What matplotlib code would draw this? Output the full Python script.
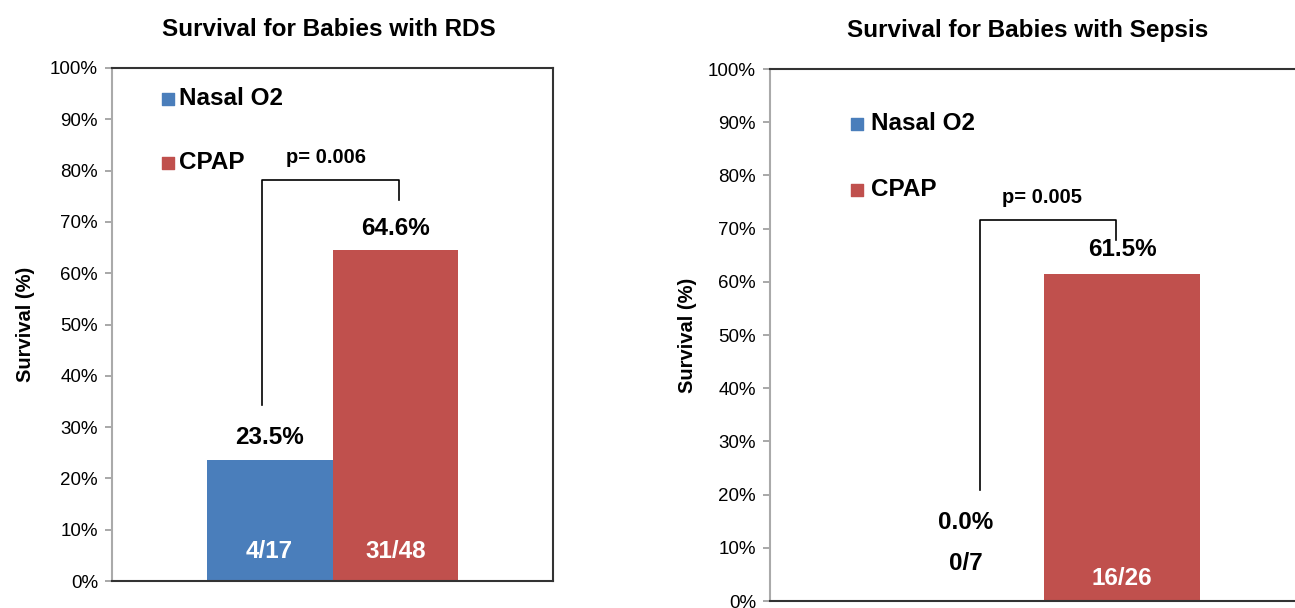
import matplotlib.pyplot as plt
from matplotlib.ticker import PercentFormatter

plt.rcParams['font.family'] = ['Liberation Sans', 'DejaVu Sans']

# ---- data ----
groups = ['Nasal O2', 'CPAP']
colors = ['#4A7EBB', '#C0504D']

rds_survival = [23.5, 64.6]
rds_counts = ['4/17', '31/48']
rds_p = 'p= 0.006'

sepsis_survival = [0.0, 61.5]
sepsis_counts = ['0/7', '16/26']
sepsis_p = 'p= 0.005'

fig = plt.figure(figsize=(12.95, 6.08), dpi=100)
ax1 = fig.add_axes([112/1295, 1-581/608, 441/1295, 513/608])
ax2 = fig.add_axes([770/1295, 1-601/608, 548/1295, 532/608])

bw = 0.285
xs = [-bw/2, bw/2]


def draw_panel(ax, vals, counts, ptxt, br, lab_y, cnt_y, leg_x, leg_y, cnt_colors, ylab_x):
    for x, v, c in zip(xs, vals, colors):
        ax.bar(x, v, width=bw, color=c, zorder=2)
    ax.set_xlim(-0.5, 0.5)
    ax.set_ylim(0, 100)
    ax.set_yticks(range(0, 101, 10))
    ax.yaxis.set_major_formatter(PercentFormatter(decimals=0))
    ax.set_xticks([])
    ax.tick_params(axis='y', length=5, width=1.2, color='#999999', labelsize=13.5, pad=5)
    for s in ['top', 'right', 'bottom']:
        ax.spines[s].set_color('#333333')
        ax.spines[s].set_linewidth(1.5)
    ax.spines['left'].set_color('#AAAAAA')
    ax.spines['left'].set_linewidth(1.5)
    ax.set_ylabel('Survival (%)', fontsize=14.5, fontweight='bold')
    ax.yaxis.set_label_coords(ylab_x, 0.5)

    # value labels and counts
    for x, v, ly, cnt, cy, cc in zip(xs, vals, lab_y, counts, cnt_y, cnt_colors):
        ax.text(x, ly, f'{v:.1f}%', ha='center', va='center', fontsize=17.5, fontweight='bold')
        ax.text(x, cy, cnt, ha='center', va='center', fontsize=17.5, fontweight='bold', color=cc)

    # significance bracket
    x0, x1, y_l, y_top, y_r = br
    ax.plot([x0, x0, x1, x1], [y_l, y_top, y_top, y_r], color='black', lw=1.2, zorder=3)
    ax.text((x0 + x1)/2 - 0.01, y_top + 4.3, ptxt, ha='center', va='center',
            fontsize=14.5, fontweight='bold')

    # legend
    for g, c, y in zip(groups, colors, leg_y):
        ax.scatter([leg_x], [y], marker='s', s=70, color=c, transform=ax.transAxes, clip_on=False)
        ax.text(leg_x + 0.025, y, g, transform=ax.transAxes, ha='left', va='center',
                fontsize=17.5, fontweight='bold')


draw_panel(ax1, rds_survival, rds_counts, rds_p,
           (-0.16, 0.151, 34.3, 78.2, 74.3),
           [27.9, 68.8], [5.8, 5.8], 0.127, [0.94, 0.815], ['white', 'white'], -0.175)
draw_panel(ax2, sepsis_survival, sepsis_counts, sepsis_p,
           (-0.117, 0.131, 20.9, 71.6, 67.9),
           [14.8, 66.0], [7.1, 4.3], 0.159, [0.897, 0.773], ['black', 'white'], -0.133)

fig.text(329/1295, 1-30/608, 'Survival for Babies with RDS', ha='center', va='center',
         fontsize=17.5, fontweight='bold')
fig.text(1028/1295, 1-30/608, 'Survival for Babies with Sepsis', ha='center', va='center',
         fontsize=17.5, fontweight='bold')

fig.savefig('out.png', dpi=100)
